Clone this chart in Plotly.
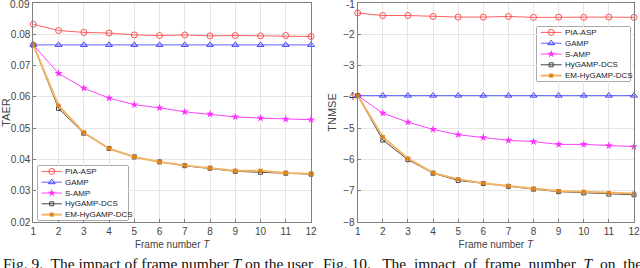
import plotly.graph_objects as go

T = list(range(1, 13))

# TAER (Fig. 9)
taer_pia = [0.0832, 0.0812, 0.0806, 0.0804, 0.0798, 0.0796, 0.0798, 0.0795, 0.0796, 0.0795, 0.0796, 0.0793]
taer_gamp = [0.0766] * 12
taer_samp = [0.0766, 0.0675, 0.0628, 0.0596, 0.0575, 0.0565, 0.0552, 0.0545, 0.0536, 0.0532, 0.0529, 0.0527]
taer_hy = [0.0766, 0.0563, 0.0484, 0.0435, 0.0408, 0.0392, 0.0380, 0.0372, 0.0362, 0.0359, 0.0356, 0.0353]
taer_em = [0.0766, 0.0572, 0.0486, 0.0435, 0.0408, 0.0392, 0.0381, 0.0372, 0.0364, 0.0364, 0.0357, 0.0354]
taer_ticks = [0.02, 0.03, 0.04, 0.05, 0.06, 0.07, 0.08, 0.09]

# TNMSE (Fig. 10)
tn_pia = [-1.32, -1.40, -1.40, -1.43, -1.45, -1.45, -1.43, -1.46, -1.45, -1.46, -1.45, -1.46]
tn_gamp = [-3.96] * 12
tn_samp = [-3.96, -4.52, -4.81, -5.04, -5.21, -5.30, -5.39, -5.43, -5.52, -5.52, -5.56, -5.59]
tn_hy = [-3.96, -5.38, -6.01, -6.44, -6.67, -6.77, -6.86, -6.95, -7.03, -7.07, -7.11, -7.13]
tn_em = [-3.96, -5.28, -5.97, -6.43, -6.63, -6.76, -6.85, -6.94, -7.01, -7.03, -7.07, -7.09]
tn_ticks = [-8, -7, -6, -5, -4, -3, -2, -1]

names = ["PIA-ASP", "GAMP", "S-AMP", "HyGAMP-DCS", "EM-HyGAMP-DCS"]
styles = [
    dict(line=dict(color="#ff6060", width=1), marker=dict(symbol="circle-open", size=6, color="#ff5050", line=dict(width=1))),
    dict(line=dict(color="#6060ff", width=1), marker=dict(symbol="triangle-up-open", size=6, color="#4040ff", line=dict(width=1))),
    dict(line=dict(color="#ff40ff", width=1), marker=dict(symbol="star", size=6, color="#ff30ff")),
    dict(line=dict(color="#404040", width=1), marker=dict(symbol="square-open", size=4, color="#404040", line=dict(width=1))),
    dict(line=dict(color="#f2b566", width=2), marker=dict(symbol="square", size=4, color="#e0821a")),
]

W, H = 640, 268
def px(x):
    return x / W
def py(y):
    return 1 - y / H

fig = go.Figure()

left = [taer_pia, taer_gamp, taer_samp, taer_hy, taer_em]
right = [tn_pia, tn_gamp, tn_samp, tn_hy, tn_em]
for ys, st, nm in zip(left, styles, names):
    fig.add_trace(go.Scatter(x=T, y=ys, mode="lines+markers", name=nm, showlegend=False,
                             xaxis="x", yaxis="y", cliponaxis=False, **st))
for ys, st, nm in zip(right, styles, names):
    fig.add_trace(go.Scatter(x=T, y=ys, mode="lines+markers", name=nm, showlegend=False,
                             xaxis="x2", yaxis="y2", cliponaxis=False, **st))

# manual legends (compact, like MATLAB)
def add_legend(xa, ya, x0, x1, y0, y1):
    for i, (nm, st) in enumerate(zip(names, styles)):
        yy = 4.5 - i
        fig.add_trace(go.Scatter(x=[0.04, 0.265], y=[yy, yy], mode="lines", line=st["line"],
                                 showlegend=False, hoverinfo="skip", xaxis=xa, yaxis=ya))
        fig.add_trace(go.Scatter(x=[0.1525], y=[yy], mode="markers", marker=st["marker"],
                                 showlegend=False, hoverinfo="skip", xaxis=xa, yaxis=ya))
        fig.add_annotation(x=0.28, y=yy, xref=xa, yref=ya, text=nm, showarrow=False,
                           xanchor="left", yanchor="middle",
                           font=dict(family="Liberation Sans, Arial", size=8, color="#222"))
    fig.add_shape(type="rect", xref=xa + " domain", yref=ya + " domain", x0=0, x1=1, y0=0, y1=1,
                  line=dict(color="#555", width=1), fillcolor="white", layer="below")
    fig.layout[xa.replace("x", "xaxis")] = dict(range=[0, 1], visible=False, fixedrange=True,
                                                automargin=False, domain=[px(x0), px(x1)], anchor=ya)
    fig.layout[ya.replace("y", "yaxis")] = dict(range=[0, 5], visible=False, fixedrange=True,
                                                automargin=False, domain=[py(y1), py(y0)], anchor=xa)

tickfont = dict(family="Liberation Sans, Arial", size=10, color="#444")
titlefont = dict(family="Liberation Sans, Arial", size=10, color="#444")
axcommon = dict(showline=True, mirror=True, linecolor="#808080", linewidth=1,
                showgrid=True, gridcolor="#e6e6e6", gridwidth=1, zeroline=False,
                ticks="inside", ticklen=3, tickcolor="#808080", tickfont=tickfont,
                automargin=False)

fig.update_layout(
    width=W, height=H, margin=dict(l=0, r=0, t=0, b=0, autoexpand=False),
    plot_bgcolor="white", paper_bgcolor="white",
    xaxis=dict(axcommon, domain=[px(33.3), px(311)], range=[1, 12], tickvals=T, anchor="y",
               title=dict(text="Frame number <i>T</i>", font=titlefont, standoff=4)),
    yaxis=dict(axcommon, domain=[py(222), py(3)], range=[0.02, 0.09], tickvals=taer_ticks,
               ticktext=[f"{v:.2f}" for v in taer_ticks], anchor="x",
               title=dict(text="TAER", font=dict(titlefont, size=11), standoff=4)),
    xaxis2=dict(axcommon, domain=[px(357.7), px(634)], range=[1, 12], tickvals=T, anchor="y2",
                title=dict(text="Frame number <i>T</i>", font=titlefont, standoff=4)),
    yaxis2=dict(axcommon, domain=[py(222), py(3)], range=[-8, -1], tickvals=tn_ticks, anchor="x2",
                title=dict(text="TNMSE", font=dict(titlefont, size=11), standoff=4)),
)

# top tick labels (Plotly drops labels touching the page edge)
fig.add_annotation(x=px(33.3), y=taer_ticks[-1], xref="paper", yref="y", xanchor="right", yanchor="middle",
                   xshift=-1, yshift=-2, text=f"{taer_ticks[-1]:.2f}", showarrow=False, font=tickfont)
fig.add_annotation(x=px(357.7), y=tn_ticks[-1], xref="paper", yref="y2", xanchor="right", yanchor="middle",
                   xshift=-1, yshift=-2, text=str(tn_ticks[-1]), showarrow=False, font=tickfont)

add_legend("x3", "y3", 38, 128, 166, 220)
add_legend("x4", "y4", 537, 630, 27, 81)

capfont = dict(family="Liberation Serif, DejaVu Serif, serif", size=15.5, color="#111")
fig.add_annotation(x=px(1), y=py(253), xref="paper", yref="paper", xanchor="left", yanchor="top",
                   text="Fig. 9.  The impact of frame number <i>T</i> on the user", showarrow=False, font=capfont)
fig.add_annotation(x=px(321), y=py(253), xref="paper", yref="paper", xanchor="left", yanchor="top",
                   text="Fig. 10.   The  impact  of  frame  number  <i>T</i>  on  the", showarrow=False, font=capfont)

fig.write_html("out.html", config={"displayModeBar": False},
               post_script="document.body.style.margin='0px';document.body.style.overflow='hidden';")
